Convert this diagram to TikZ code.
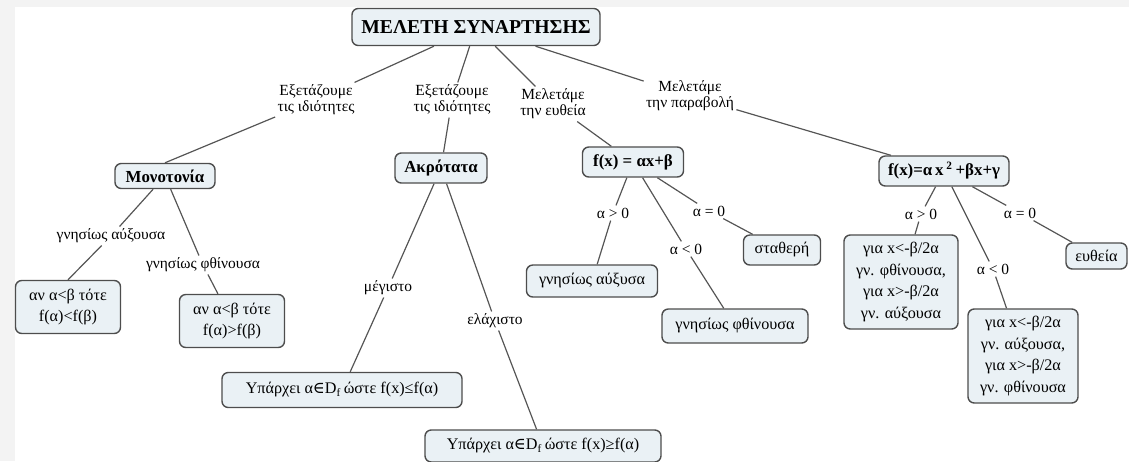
\documentclass[tikz,border=0pt]{standalone}
\usepackage{fontspec}
\setmainfont{Liberation Serif}
\newfontfamily\symbfont{DejaVu Serif}
\usepackage{xcolor}
\definecolor{conceptfill}{HTML}{EAF1F5}
\definecolor{conceptline}{HTML}{4D4D4D}
\definecolor{linkline}{HTML}{555555}
\definecolor{edgeband}{HTML}{F3F3F3}

\begin{document}
\begin{tikzpicture}[x=0.025cm,y=-0.025cm,
  concept/.style={draw=conceptline,fill=conceptfill,line width=1pt,rounded corners=4.5pt,align=center,inner sep=2pt,font=\fontsize{11.5}{15.4}\selectfont},
  mainconcept/.style={concept,font=\fontsize{12}{14}\bfseries\selectfont},
  linkword/.style={align=center,inner sep=1.5pt,font=\fontsize{11}{11.5}\selectfont},
  link/.style={draw=linkline,line width=0.85pt}]
\useasboundingbox (0,0) rectangle (1129,461);
\fill[edgeband] (0,0) rectangle (1129,7);
\fill[edgeband] (0,0) rectangle (15,461);

\node[mainconcept,font=\fontsize{14}{16}\bfseries\selectfont,minimum width=6.2cm,minimum height=0.925cm] (root) at (476,27) {ΜΕΛΕΤΗ ΣΥΝΑΡΤΗΣΗΣ};

\node[linkword] (prop1) at (316,100) {Εξετάζουμε\\τις ιδιότητες};
\node[linkword] (prop2) at (452,100) {Εξετάζουμε\\τις ιδιότητες};
\node[linkword] (lin) at (553,104) {Μελετάμε\\την ευθεία};
\node[linkword] (par) at (690,96) {Μελετάμε\\την παραβολή};

\node[mainconcept,minimum width=2.5cm,minimum height=0.625cm] (mono) at (165,176) {Μονοτονία};
\node[mainconcept,minimum width=2.3cm,minimum height=0.75cm] (akr) at (441,168) {Ακρότατα};
\node[mainconcept,minimum width=2.525cm,minimum height=0.75cm] (flin) at (633,162) {f(x) = αx+β};
\node[mainconcept,minimum width=3.25cm,minimum height=0.75cm] (fpar) at (944,171) {f(x)=α\,x\,\textsuperscript{2}\,+βx+γ};

\node[linkword] (inc) at (111,236) {γνησίως αύξουσα};
\node[linkword] (dec) at (203,265) {γνησίως φθίνουσα};
\node[concept,minimum width=2.625cm,minimum height=1.325cm] (incbox) at (68,307) {αν α<β τότε\\f(α)<f(β)};
\node[concept,minimum width=2.625cm,minimum height=1.325cm] (decbox) at (232,321) {αν α<β τότε\\f(α)>f(β)};

\node[linkword] (max) at (388,288) {μέγιστο};
\node[linkword] (min) at (495,321) {ελάχιστο};
\node[concept,minimum width=6cm,minimum height=0.875cm] (maxbox) at (342,390) {Υπάρχει α{\symbfont∈}D\textsubscript{f}\,ώστε f(x)≤f(α)};
\node[concept,minimum width=5.9cm,minimum height=0.8cm] (minbox) at (543,446) {Υπάρχει α{\symbfont∈}D\textsubscript{f}\,ώστε f(x)≥f(α)};

\node[linkword] (lpos) at (613,213) {α > 0};
\node[linkword] (lneg) at (686,249) {α < 0};
\node[linkword] (lzero) at (709,211) {α = 0};
\node[concept,minimum width=3.275cm,minimum height=0.8cm] (lposbox) at (592,281) {γνησίως αύξυσα};
\node[concept,minimum width=1.925cm,minimum height=0.75cm] (lzerobox) at (782,250) {σταθερή};
\node[concept,minimum width=3.65cm,minimum height=0.85cm] (lnegbox) at (735,326) {γνησίως φθίνουσα};

\node[linkword] (ppos) at (921,214) {α > 0};
\node[linkword] (pneg) at (993,269) {α < 0};
\node[linkword] (pzero) at (1020,213) {α = 0};
\node[concept,minimum width=2.85cm,minimum height=2.35cm] (pposbox) at (901,282) {για x<-β/2α\\γν. φθίνουσα,\\για x>-β/2α\\γν. αύξουσα};
\node[concept,minimum width=2.75cm,minimum height=2.35cm] (pnegbox) at (1023,356) {για x<-β/2α\\γν. αύξουσα,\\για x>-β/2α\\γν. φθίνουσα};
\node[concept,minimum width=1.525cm,minimum height=0.65cm] (pzerobox) at (1096.5,256) {ευθεία};

\draw[link] (root) -- (prop1) (prop1) -- (mono.north);
\draw[link] (root) -- (prop2) (prop2) -- (akr);
\draw[link] (root) -- (lin) (lin) -- (flin);
\draw[link] (root) -- (par) (par) -- (fpar);

\draw[link] (mono) -- (inc) (inc) -- (incbox.north);
\draw[link] (mono) -- (dec) (dec) -- (decbox);
\draw[link] (akr) -- (max) (max) -- (maxbox);
\draw[link] (akr) -- (min) (min) -- (minbox);

\draw[link] (flin) -- (lpos) (lpos) -- (lposbox);
\draw[link] (flin) -- (lneg) (lneg) -- (lnegbox);
\draw[link] (flin) -- (lzero) (lzero) -- (lzerobox);
\draw[link] (fpar) -- (ppos) (ppos) -- (pposbox);
\draw[link] (fpar) -- (pneg) (pneg) -- (pnegbox);
\draw[link] (fpar) -- (pzero) (pzero) -- (pzerobox);
\end{tikzpicture}
\end{document}
